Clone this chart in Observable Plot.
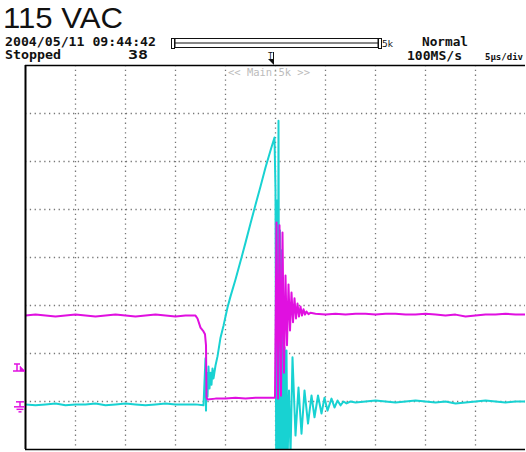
<!DOCTYPE html>
<html><head><meta charset="utf-8">
<script src="https://cdn.jsdelivr.net/npm/d3@7"></script>
<script src="https://cdn.jsdelivr.net/npm/@observablehq/plot@0.6"></script>
<style>
html,body{margin:0;padding:0;background:#fff;}
#wrap{position:relative;width:526px;height:452px;overflow:hidden;background:#fff;}
#wrap svg{position:absolute;left:0;top:0;}
</style></head><body><div id="wrap"></div>
<script>
// time in microseconds (5 µs/div), level in divisions from screen centre
const ch1Time = [0,1,2,3,4,5,6,7,8,9,10,11,12,13,14,15,16,17,17.2,17.5,17.8,17.95,18.05,18.1,18.2,19,20,21,22,23,24,24.95,
  25.1,25.25,25.4,25.55,25.7,25.85,26.0,26.15,26.3,26.45,26.6,26.75,26.9,27.05,27.2,27.35,27.5,27.65,27.8,27.95,28.1,28.3,28.5,
  29,30,31,32,33,34,35,36,37,38,39,40,41,42,43,44,45,46,47,48,49,50];
const ch1Div = [-1.21,-1.19,-1.21,-1.23,-1.21,-1.19,-1.21,-1.23,-1.21,-1.19,-1.21,-1.23,-1.21,-1.19,-1.21,-1.23,-1.21,-1.21,-1.27,-1.46,-1.54,-1.60,-1.83,-2.92,-2.96,-2.94,-2.94,-2.92,-2.94,-2.92,-2.92,-2.92,
  0.73,-2.94,0.67,-2.88,0.52,-2.40,-0.375,-1.83,-0.56,-1.52,-0.73,-1.35,-0.85,-1.27,-0.96,-1.23,-1.02,-1.21,-1.08,-1.19,-1.125,-1.18,-1.15,
  -1.17,-1.19,-1.17,-1.19,-1.17,-1.17,-1.19,-1.17,-1.17,-1.19,-1.19,-1.17,-1.19,-1.21,-1.19,-1.23,-1.21,-1.19,-1.19,-1.17,-1.19,-1.19];
const ch2Time = [0,1,2,3,4,5,6,7,8,9,10,11,12,13,14,15,16,17,17.8,18.0,18.05,18.1,18.2,18.3,18.4,18.5,18.6,18.7,18.8,19.0,19.2,19.5,19.8,20.2,20.5,21.0,21.5,22.0,22.5,23.0,23.5,24.0,24.5,24.9,
  25.0,25.07,25.15,25.23,25.3,25.38,25.45,25.53,25.6,25.68,25.75,25.83,25.9,26.0,26.1,26.2,26.35,26.5,26.7,27.0,27.3,27.6,27.9,28.25,28.6,28.9,29.25,29.6,29.9,30.2,30.6,30.9,31.2,31.5,31.8,32.1,32.5,
  33,34,35,36,37,38,39,40,41,42,43,44,45,46,47,48,49,50];
const ch2Div = [-3.06,-3.08,-3.06,-3.04,-3.08,-3.06,-3.06,-3.04,-3.08,-3.06,-3.04,-3.06,-3.08,-3.06,-3.04,-3.06,-3.06,-3.06,-3.08,-2.10,-3.19,-2.40,-2.90,-2.27,-2.73,-2.40,-2.65,-2.31,-2.52,-2.25,-2.06,-1.67,-1.42,-1.04,-0.81,-0.46,-0.08,0.31,0.71,1.10,1.48,1.875,2.23,2.50,
  1.40,-4.44,1.19,-4.44,2.85,-4.44,0.56,-4.44,0.15,-4.44,-0.90,-4.44,-1.875,-4.44,-1.94,-4.33,-2.77,-4.125,-2.08,-3.71,-2.71,-3.67,-2.77,-3.46,-2.875,-3.33,-2.875,-3.25,-2.92,-3.19,-2.94,-3.125,-2.98,-3.08,-3.00,-3.04,-3.00,
  -3.02,-3.00,-2.98,-3.00,-3.02,-3.00,-2.98,-3.00,-3.02,-3.00,-3.04,-3.02,-3.00,-2.98,-3.00,-3.02,-3.00,-3.00];
const xGrid = [5,10,15,20,25,30,35,40,45];
const yGrid = [-3,-2,-1,0,1,2,3];
const ch1Marker = -2.375;
const ch2Ground = -3.08;

const titleText = "115 VAC";
const dateText = "2004/05/11 09:44:42";
const stateText = "Stopped";
const countText = "38";
const modeText = "Normal";
const rateText = "100MS/s";
const divText = "5μs/div";
const recText = "5k";
const zoomText = "<< Main:5k >>";

const ch1 = ch1Time.map((t, i) => ({t, v: ch1Div[i]}));
const ch2 = ch2Time.map((t, i) => ({t, v: ch2Div[i]}));

const MAG = "#e010e0", CYA = "#18d2d2";

const plot = Plot.plot({
  width: 526, height: 452,
  marginLeft: 25, marginRight: 1, marginTop: 65, marginBottom: 3,
  style: {background: "white"},
  x: {domain: [0, 50], axis: null},
  y: {domain: [-4, 4], axis: null},
  marks: [
    Plot.ruleX(xGrid, {stroke: "#777", strokeWidth: 1.3, strokeDasharray: "1.3,3.5"}),
    Plot.ruleY(yGrid, {stroke: "#777", strokeWidth: 1.3, strokeDasharray: "1.3,3.5"}),
    Plot.line(ch2, {x: "t", y: "v", stroke: CYA, strokeWidth: 2, clip: true}),
    Plot.line(ch1, {x: "t", y: "v", stroke: MAG, strokeWidth: 2, clip: true}),
    Plot.ruleX([0], {stroke: "black", strokeWidth: 2}),
    Plot.ruleY([-4, 4], {stroke: "black", strokeWidth: 1.6})
  ]
});
document.getElementById("wrap").appendChild(plot);

const sy = plot.scale("y");
const sx = plot.scale("x");
const ov = d3.select("#wrap").append("svg")
  .attr("width", 526).attr("height", 452)
  .style("pointer-events", "none");

const mono = "'DejaVu Sans Mono', 'Liberation Mono', monospace";
function txt(s, x, y, size, opts = {}) {
  const t = ov.append("text").attr("x", x).attr("y", y)
    .attr("font-family", opts.family || mono)
    .attr("font-size", size)
    .attr("font-weight", opts.weight || "bold")
    .attr("fill", opts.fill || "#111")
    .text(s);
  if (opts.len) t.attr("textLength", opts.len).attr("lengthAdjust", "spacingAndGlyphs");
  return t;
}
txt(titleText, 3, 28, 30, {family: "'Liberation Sans', Arial, sans-serif", weight: "normal", len: 120});
txt(dateText, 5, 45.5, 11.5, {len: 151});
txt(stateText, 5, 59, 11.5, {len: 56});
txt(countText, 128, 59, 11.5, {len: 20});
txt(modeText, 422, 45.5, 11.5, {len: 46});
txt(rateText, 407, 59.5, 11.5, {len: 55});
txt(divText, 485, 59.5, 9.3, {len: 38});
txt(recText, 382, 47, 9, {family: "'DejaVu Sans', sans-serif", weight: "normal"});
txt(zoomText, 228, 76, 10, {fill: "#bbb", weight: "normal", len: 82});

// record-length bar
ov.append("rect").attr("x", 175).attr("y", 38.5).attr("width", 203).attr("height", 9)
  .attr("fill", "none").attr("stroke", "#111").attr("stroke-width", 1);
ov.append("line").attr("x1", 175).attr("x2", 378).attr("y1", 43).attr("y2", 43)
  .attr("stroke", "#111").attr("stroke-width", 1);
[[171, 38], [378, 38]].forEach(([x, y]) => {
  ov.append("rect").attr("x", x + 0.5).attr("y", y + 0.5).attr("width", 3).attr("height", 10)
    .attr("fill", "none").attr("stroke", "#111").attr("stroke-width", 1);
});
// trigger position marker (at the trigger time of the main window)
const tx = sx.apply(25) - 2;
txt("T", tx - 5, 59, 8, {weight: "normal"});
ov.append("line").attr("x1", tx + 0.5).attr("x2", tx + 0.5).attr("y1", 52).attr("y2", 64)
  .attr("stroke", "#111").attr("stroke-width", 1);
ov.append("path").attr("d", `M${tx - 5},59 L${tx + 1},59 L${tx + 1},65 Z`).attr("fill", "#111");

// channel markers on the left edge
const y1 = sy.apply(ch1Marker);
const g1 = ov.append("g").attr("stroke", MAG).attr("stroke-width", 1.5).attr("fill", MAG);
g1.append("line").attr("x1", 14).attr("x2", 20).attr("y1", y1 - 7).attr("y2", y1 - 7);
g1.append("line").attr("x1", 17).attr("x2", 17).attr("y1", y1 - 7).attr("y2", y1);
g1.append("line").attr("x1", 13).attr("x2", 25).attr("y1", y1).attr("y2", y1);
g1.append("path").attr("d", `M20,${y1 - 5} L25,${y1} L20,${y1} Z`).attr("stroke-width", 0.5);

const y2 = sy.apply(ch2Ground);
const g2 = ov.append("g").attr("stroke", MAG).attr("stroke-width", 1.5);
g2.append("line").attr("x1", 16).attr("x2", 24).attr("y1", y2 - 3).attr("y2", y2 - 3);
g2.append("line").attr("x1", 20).attr("x2", 20).attr("y1", y2 - 3).attr("y2", y2 + 2);
g2.append("line").attr("x1", 14).attr("x2", 25).attr("y1", y2 + 2).attr("y2", y2 + 2);
g2.append("line").attr("x1", 16.5).attr("x2", 23.5).attr("y1", y2 + 4.5).attr("y2", y2 + 4.5);
g2.append("line").attr("x1", 18.5).attr("x2", 21.5).attr("y1", y2 + 7).attr("y2", y2 + 7);
</script></body></html>
